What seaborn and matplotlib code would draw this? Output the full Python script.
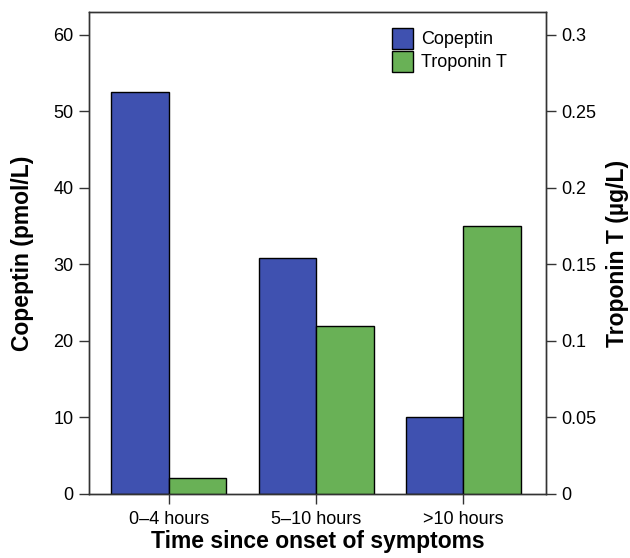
import numpy as np
import pandas as pd
import matplotlib
matplotlib.use("Agg")
import matplotlib.pyplot as plt
import seaborn as sns

# values
categories = ["0\u20134 hours", "5\u201310 hours", ">10 hours"]
copeptin = [52.5, 30.9, 10.0]          # pmol/L, left axis
troponin = [0.0105, 0.11, 0.175]       # ug/L, right axis
series = ["Copeptin", "Troponin T"]
colors = {"Copeptin": "#3f51b0", "Troponin T": "#69b156"}

sns.set_style("ticks")
plt.rcParams["font.family"] = ["Liberation Sans", "DejaVu Sans"]
plt.rcParams["text.color"] = "black"
plt.rcParams["axes.labelcolor"] = "black"
plt.rcParams["xtick.color"] = "black"
plt.rcParams["ytick.color"] = "black"

df_cop = pd.DataFrame({"time": categories, "value": copeptin, "series": "Copeptin"})
df_tro = pd.DataFrame({"time": categories, "value": troponin, "series": "Troponin T"})

fig = plt.figure(figsize=(6.3, 5.58), dpi=100)
ax = fig.add_axes([0.1413, 0.1147, 0.7254, 0.8638])
ax2 = ax.twinx()

sns.barplot(data=df_cop, x="time", y="value", hue="series", hue_order=series,
            order=categories, palette=colors, dodge=True, width=0.78, gap=0,
            saturation=1, edgecolor="black", linewidth=1, ax=ax, legend=False)
sns.barplot(data=df_tro, x="time", y="value", hue="series", hue_order=series,
            order=categories, palette=colors, dodge=True, width=0.78, gap=0,
            saturation=1, edgecolor="black", linewidth=1, ax=ax2, legend=False)

ax.set_xlim(-0.54, 2.56)
ax.set_ylim(0, 63)
ax2.set_ylim(0, 0.315)
ax.set_yticks([0, 10, 20, 30, 40, 50, 60])
ax2.set_yticks([0, 0.05, 0.1, 0.15, 0.2, 0.25, 0.3])
ax2.set_yticklabels(["0", "0.05", "0.1", "0.15", "0.2", "0.25", "0.3"])

ax.set_xlabel("Time since onset of symptoms", fontsize=16.5, fontweight="bold", labelpad=2)
ax.set_ylabel("Copeptin (pmol/L)", fontsize=16.5, fontweight="bold", labelpad=14)
ax2.set_ylabel("Troponin T (\u00b5g/L)", fontsize=16.5, fontweight="bold", labelpad=7,
               rotation=90)

for a in (ax, ax2):
    a.tick_params(labelsize=13, length=7, width=1, color="#333333", pad=4)
    for s in a.spines.values():
        s.set_visible(True)
        s.set_linewidth(1)
        s.set_color("#333333")
ax.tick_params(axis="x", length=7, pad=5)

handles = [plt.Rectangle((0, 0), 1, 1, facecolor=colors[s], edgecolor="black", linewidth=1)
           for s in series]
ax.legend(handles, series, loc="upper right", bbox_to_anchor=(0.915, 0.967), frameon=False,
          fontsize=13, handlelength=1.17, handleheight=1.41, handletextpad=0.45,
          labelspacing=0.1, borderaxespad=0, borderpad=0)

fig.savefig("out.png", dpi=100)
